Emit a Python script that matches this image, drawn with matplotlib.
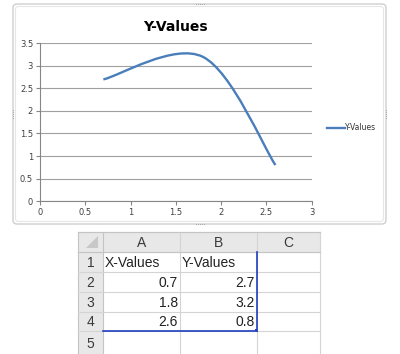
import numpy as np
import matplotlib.pyplot as plt
from matplotlib.path import Path
from matplotlib.patches import PathPatch, Rectangle, FancyBboxPatch, Polygon

# dados
x_values = [0.7, 1.8, 2.6]
y_values = [2.7, 3.2, 0.8]
series_name = "Y-Values"
x_header = "X-Values"
col_letters = ["A", "B", "C"]

blue = "#4a7ebb"

fig = plt.figure(figsize=(4, 3.54), dpi=100)

# camada de fundo em pixels (moldura do grafico + planilha)
bg = fig.add_axes([0, 0, 1, 1])
bg.set_xlim(0, 400)
bg.set_ylim(354, 0)
bg.axis("off")

# moldura do grafico
bg.add_patch(FancyBboxPatch((13, 4), 373, 220, boxstyle="round,pad=0,rounding_size=4",
                            fc="white", ec="#cfcfcf", lw=1.0))
bg.add_patch(FancyBboxPatch((15.5, 6.5), 368, 215, boxstyle="round,pad=0,rounding_size=3",
                            fc="none", ec="#e6e6e6", lw=0.8))
for (hx, hy, horiz) in [(200, 4, True), (200, 224, True), (13, 114, False), (386, 114, False)]:
    for k in range(-2, 3):
        if horiz:
            bg.plot(hx + k * 2, hy, marker="s", ms=0.5, mew=0, color="#9a9a9a")
        else:
            bg.plot(hx, hy + k * 2, marker="s", ms=0.5, mew=0, color="#9a9a9a")

# planilha
col_edges = [78, 103, 180, 257, 320]
row_edges = [232, 252, 272, 292, 312, 331, 354]
grid_c = "#d4d4d4"
head_bg = "#e8e8e8"
head_ec = "#c4c4c4"

# cabecalhos
bg.add_patch(Rectangle((col_edges[0], row_edges[0]), col_edges[-1] - col_edges[0],
                       row_edges[1] - row_edges[0], fc=head_bg, ec="none"))
bg.add_patch(Rectangle((col_edges[0], row_edges[1]), col_edges[1] - col_edges[0],
                       row_edges[-1] - row_edges[1], fc=head_bg, ec="none"))
bg.add_patch(Polygon([[98, 236], [98, 248], [86, 248]], closed=True, fc="#c8c8c8", ec="none"))

for xe in col_edges:
    bg.plot([xe, xe], [row_edges[0], row_edges[-1]], color=grid_c if xe > 103 else head_ec, lw=0.8)
for ye in row_edges[:-1]:
    bg.plot([col_edges[0], col_edges[-1]], [ye, ye], color=grid_c, lw=0.8)
bg.plot([col_edges[0], col_edges[-1]], [row_edges[1], row_edges[1]], color=head_ec, lw=0.8)
bg.plot([col_edges[0], col_edges[-1]], [row_edges[0], row_edges[0]], color=head_ec, lw=0.8)

txt = dict(fontsize=10, family="Liberation Sans", color="#222222", va="center")
hdr = dict(txt, color="#3a3a3a")
for i, letter in enumerate(col_letters):
    bg.text((col_edges[i + 1] + col_edges[i + 2]) / 2, (row_edges[0] + row_edges[1]) / 2 + 1,
            letter, ha="center", **hdr)
for r in range(5):
    bg.text((col_edges[0] + col_edges[1]) / 2, (row_edges[r + 1] + row_edges[r + 2]) / 2 + 1,
            str(r + 1), ha="center", **hdr)

bg.text(col_edges[1] + 2, (row_edges[1] + row_edges[2]) / 2 + 1, x_header, ha="left", **txt)
bg.text(col_edges[2] + 2, (row_edges[1] + row_edges[2]) / 2 + 1, series_name, ha="left", **txt)
for r, (xv, yv) in enumerate(zip(x_values, y_values)):
    yc = (row_edges[r + 2] + row_edges[r + 3]) / 2 + 1
    bg.text(col_edges[2] - 2, yc, str(xv), ha="right", **txt)
    bg.text(col_edges[3] - 2, yc, str(yv), ha="right", **txt)

# destaque azul do intervalo
sel = "#1f3fbf"
bg.plot([col_edges[3], col_edges[3]], [row_edges[1], row_edges[5]], color=sel, lw=1.2)
bg.plot([col_edges[1], col_edges[3]], [row_edges[5], row_edges[5]], color=sel, lw=1.2)
bg.add_patch(Rectangle((col_edges[3] - 2, row_edges[5] - 2), 3, 3, fc=sel, ec="none"))

# area do grafico
ax = fig.add_axes([0.1, 0.432, 0.679, 0.4455])
ax.set_xlim(0, 3)
ax.set_ylim(0, 3.5)
ax.set_xticks(np.arange(0, 3.01, 0.5))
ax.set_yticks(np.arange(0, 3.51, 0.5))
ax.set_xticklabels(["0", "0.5", "1", "1.5", "2", "2.5", "3"])
ax.set_yticklabels(["0", "0.5", "1", "1.5", "2", "2.5", "3", "3.5"])
ax.grid(axis="y", color="#a0a0a0", lw=0.8)
ax.set_axisbelow(True)
for s in ["top", "right"]:
    ax.spines[s].set_visible(False)
for s in ["left", "bottom"]:
    ax.spines[s].set_color("#868686")
    ax.spines[s].set_linewidth(0.8)
ax.tick_params(length=3, width=0.8, color="#868686", labelsize=6, labelcolor="#404040", pad=2)
ax.patch.set_alpha(0)

# linha suavizada ao estilo do Excel (Bezier)
pts = np.column_stack([x_values, y_values])
n = len(pts)
verts = [pts[0]]
codes = [Path.MOVETO]
for i in range(n - 1):
    p_prev = pts[max(i - 1, 0)]
    p0 = pts[i]
    p1 = pts[i + 1]
    p_next = pts[min(i + 2, n - 1)]
    c1 = p0 + (p1 - p_prev) / 6
    c2 = p1 - (p_next - p0) / 6
    verts += [c1, c2, p1]
    codes += [Path.CURVE4] * 3
ax.add_patch(PathPatch(Path(verts, codes), fc="none", ec=blue, lw=1.7, capstyle="butt"))

ax.set_title(series_name, fontsize=10, fontweight="bold", pad=9)

# legenda
bg.plot([327, 345], [128, 128], color=blue, lw=1.7)
bg.text(345, 128, series_name, fontsize=5.5, va="center", ha="left", color="#333333")

fig.savefig("out.png", dpi=100)
